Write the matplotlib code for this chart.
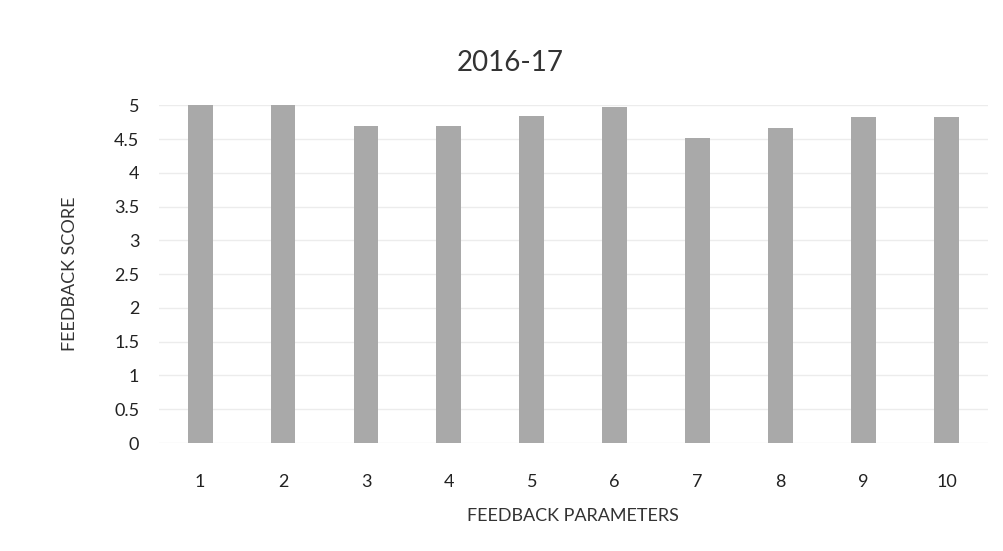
import matplotlib
matplotlib.use("Agg")
import matplotlib.pyplot as plt

# feedback scores
params = ["1", "2", "3", "4", "5", "6", "7", "8", "9", "10"]
scores = [5.0, 5.0, 4.69, 4.69, 4.84, 4.98, 4.51, 4.67, 4.82, 4.83]
yticks = [0, 0.5, 1, 1.5, 2, 2.5, 3, 3.5, 4, 4.5, 5]

plt.rcParams["font.family"] = ["Lato", "DejaVu Sans"]

fig = plt.figure(figsize=(10.04, 5.51), dpi=100)
ax = fig.add_axes([0.158, 0.196, 0.826, 0.613])

x = list(range(1, len(params) + 1))
ax.bar(x, scores, width=0.3, color="#a9a9a9", zorder=2)

ax.set_xlim(0.5, 10.5)
ax.set_ylim(0, 5)
ax.set_xticks(x)
ax.set_xticklabels(params)
ax.set_yticks(yticks)
ax.set_yticklabels([f"{t:g}" for t in yticks])
ax.tick_params(length=0, labelsize=13, colors="#222222")
ax.tick_params(axis="x", pad=22)
ax.tick_params(axis="y", pad=14)
ax.grid(axis="y", color="#ececec", linewidth=1, zorder=0)
for s in ax.spines.values():
    s.set_visible(False)

# title sits centred on the page, left of the plot centre
fig.text(0.508, 0.885, "2016-17", fontsize=20, color="#333333", ha="center", va="center")
ax.set_xlabel("FEEDBACK PARAMETERS", fontsize=13, color="#333333", labelpad=13)
ax.set_ylabel("FEEDBACK SCORE", fontsize=13, color="#333333", labelpad=26)

fig.savefig("out.png", dpi=100)
